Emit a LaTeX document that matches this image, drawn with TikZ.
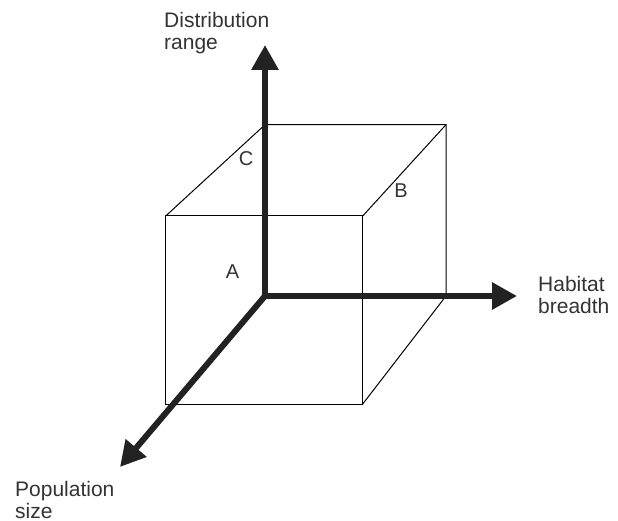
\documentclass[tikz,border=0pt]{standalone}
\usepackage{fontspec}
\setmainfont{Liberation Sans}
\usetikzlibrary{arrows.meta}
\definecolor{ink}{HTML}{222222}
\definecolor{txt}{HTML}{333333}
\newcommand{\twolines}[2]{\vtop{\baselineskip=21.5pt\hbox{#1}\hbox{#2}}}
\begin{document}
\begin{tikzpicture}[x=1pt,y=-1pt,
  axis/.style={draw=ink,line width=6pt,line join=miter,-{Triangle[length=25pt,width=26pt]}},
  cube/.style={draw=black,line width=1pt,line join=miter},
  lab/.style={inner sep=0pt,text=txt,font=\fontsize{21}{21.5}\selectfont,anchor=base west},
  corner/.style={inner sep=0pt,text=txt,font=\fontsize{20}{21}\selectfont,anchor=base}]
\useasboundingbox (0,0) rectangle (618,521);
% cube corners
\coordinate (FTL) at (165.7,216);
\coordinate (FTR) at (362.7,216);
\coordinate (FBR) at (362.7,404);
\coordinate (FBL) at (165.7,404);
\coordinate (BTL) at (265,124.7);
\coordinate (BTR) at (446,124.7);
\coordinate (BBR) at (446,296);
% axes
\coordinate (O) at (265,296);
\coordinate (up) at (265,45);
\coordinate (right) at (517,296);
\coordinate (down) at (120,467);
% cube
\draw[cube] (FTL) -- (FTR) -- (FBR) -- (FBL) -- cycle;
\draw[cube] (FTL) -- (BTL) -- (BTR) -- (BBR) -- (FBR);
\draw[cube] (FTR) -- (BTR);
% axes
\draw[axis,line cap=rect] (O) -- (up);
\draw[axis,line cap=rect] (O) -- (right);
\draw[axis] (O) -- (down);
% labels
\node[lab] (dist) at (164,28) {\twolines{Distribution}{range}};
\node[lab] (hab) at (538,291.7) {\twolines{Habitat}{breadth}};
\node[lab] (pop) at (15,496.5) {\twolines{Population}{size}};
\node[corner] (A) at (232.5,279) {A};
\node[corner] (B) at (401,198) {B};
\node[corner] (C) at (246,166) {C};
\end{tikzpicture}
\end{document}
